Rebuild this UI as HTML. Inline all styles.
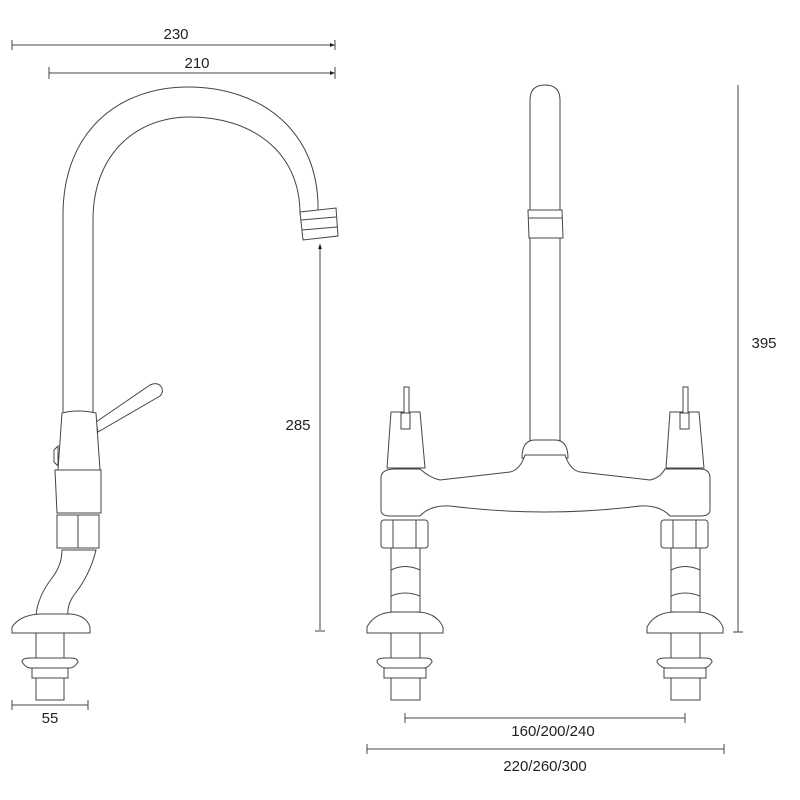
<!DOCTYPE html>
<html><head><meta charset="utf-8"><style>body{margin:0;background:#fff}svg{display:block}text{font-family:"Liberation Sans",sans-serif;font-size:15px;fill:#222}</style></head>
<body>
<svg width="800" height="800" viewBox="0 0 800 800" xmlns="http://www.w3.org/2000/svg">
<defs><marker id="a" markerWidth="6" markerHeight="6" refX="5" refY="3" orient="auto"><path d="M0,1 L5,3 L0,5z" fill="#222"/></marker></defs>
<g fill="none" stroke="#444" stroke-width="1">
<line x1="12" y1="45" x2="335" y2="45" marker-end="url(#a)"/><line x1="12" y1="40" x2="12" y2="50"/><line x1="335" y1="40" x2="335" y2="50"/>
<line x1="49" y1="73" x2="335" y2="73" marker-end="url(#a)"/><line x1="49" y1="67" x2="49" y2="79"/><line x1="335" y1="67" x2="335" y2="79"/>
<line x1="320" y1="630" x2="320" y2="244" marker-end="url(#a)"/><line x1="315" y1="631" x2="325" y2="631"/>
<line x1="12" y1="705" x2="88" y2="705"/><line x1="12" y1="700" x2="12" y2="710"/><line x1="88" y1="700" x2="88" y2="710"/>
<line x1="738" y1="85" x2="738" y2="632"/><line x1="733" y1="632" x2="743" y2="632"/>
<line x1="405" y1="718" x2="685" y2="718"/><line x1="405" y1="713" x2="405" y2="723"/><line x1="685" y1="713" x2="685" y2="723"/>
<line x1="367" y1="749" x2="724" y2="749"/><line x1="367" y1="744" x2="367" y2="754"/><line x1="724" y1="744" x2="724" y2="754"/>
</g>
<g fill="#fff" stroke="#444" stroke-width="1">
<path d="M63,412 L63,215 C63,130 120,87 188,87 C260,87 320,130 318,212 L300,214 C300,150 250,117 190,117 C135,117 93,155 93,220 L93,412"/>
<path d="M300,212 L336,208 L338,236 L303,240 Z"/>
<line x1="301" y1="220" x2="336" y2="217"/><line x1="302" y1="230" x2="337" y2="227"/>
<path d="M96,422 L150,385 C160,380 166,390 160,396 L98,432 Z"/>
<path d="M54,450 L58,446 L58,466 L54,462Z"/>
<path d="M58,470 L62,413 Q78,409 96,413 L100,470 Z"/>
<path d="M55,470 L101,470 L101,513 L57,513 Z"/>
<rect x="57" y="515" width="42" height="33"/><line x1="78" y1="515" x2="78" y2="548"/>
<path d="M62,550 L96,550 Q90,575 74,595 Q67,605 68,615 L36,615 Q38,596 52,578 Q62,565 62,550Z"/>
<path d="M12,627 Q20,615 40,614 L70,614 Q86,615 90,627 L90,633 L12,633 Z"/>
<rect x="36" y="633" width="28" height="67"/>
<path d="M22,662 Q22,658 30,658 L70,658 Q78,658 78,662 Q74,668 70,668 L30,668 Q26,668 22,662Z"/>
<rect x="32" y="668" width="36" height="10"/>
<path d="M530,450 L530,100 Q530,85 545,85 Q560,85 560,100 L560,450Z"/>
<path d="M528,210 L562,210 L563,238 L529,238Z"/><line x1="529" y1="218" x2="562" y2="218"/>
<path d="M522,458 Q522,440 535,440 L555,440 Q568,440 568,458Z"/>
<path d="M381,478 Q381,469 395,469 L420,469 Q430,478 440,480 L510,472 Q520,470 525,455 L565,455 Q570,470 580,472 L650,480 Q660,478 665,469 L700,469 Q710,469 710,478 L710,510 Q710,516 700,516 L670,516 Q660,505 640,506 Q545,518 450,506 Q430,505 420,516 L390,516 Q381,516 381,510Z"/>
<path d="M387,468 L391,412 L420,412 L425,468Z"/><rect x="404" y="387" width="5" height="32"/><rect x="401" y="413" width="9" height="16"/>
<path d="M666,468 L670,412 L699,412 L704,468Z"/><rect x="683" y="387" width="5" height="32"/><rect x="680" y="413" width="9" height="16"/>
<g id="leg">
<rect x="381" y="520" width="47" height="28" rx="3"/><line x1="393" y1="520" x2="393" y2="548"/><line x1="416" y1="520" x2="416" y2="548"/>
<rect x="391" y="548" width="29" height="64"/>
<path d="M391,570 Q405,563 420,570 M391,596 Q405,590 420,596"/>
<path d="M367,627 Q375,612 395,612 L416,612 Q436,612 443,627 L443,633 L367,633Z"/>
<rect x="391" y="633" width="29" height="67"/>
<path d="M377,662 Q377,658 385,658 L425,658 Q432,658 432,662 Q428,668 424,668 L386,668 Q381,668 377,662Z"/>
<rect x="384" y="668" width="42" height="10"/>
</g>
<use href="#leg" transform="translate(280,0)"/>
</g>
<text x="176" y="39" text-anchor="middle">230</text>
<text x="197" y="68" text-anchor="middle">210</text>
<text x="298" y="430" text-anchor="middle">285</text>
<text x="50" y="723" text-anchor="middle">55</text>
<text x="764" y="348" text-anchor="middle">395</text>
<text x="553" y="736" text-anchor="middle">160/200/240</text>
<text x="545" y="771" text-anchor="middle">220/260/300</text>
</svg>
</body></html>
